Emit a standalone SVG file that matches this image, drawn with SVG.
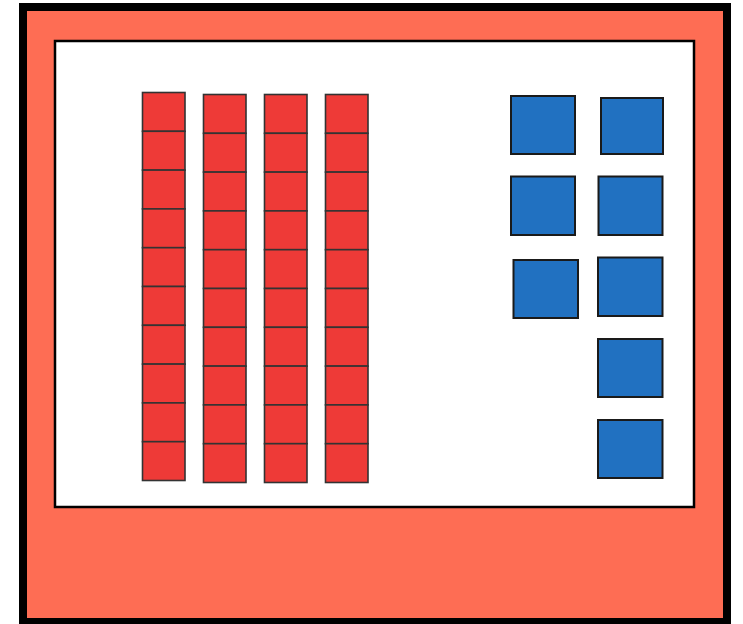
<svg xmlns="http://www.w3.org/2000/svg" width="743" height="624" viewBox="0 0 743 624">
<style>
.frame{fill:#FE6D54;stroke:#000;stroke-width:8}
.board{fill:#fff;stroke:#000;stroke-width:2.5}
.r{fill:#EE3A37;stroke:#333;stroke-width:1.6}
.b{fill:#2171C1;stroke:#1a1a1a;stroke-width:2}
</style>
<defs>
<g id="col">
<rect class="r" x="0" y="0" width="42.5" height="38.8"/>
<rect class="r" x="0" y="38.8" width="42.5" height="38.8"/>
<rect class="r" x="0" y="77.6" width="42.5" height="38.8"/>
<rect class="r" x="0" y="116.4" width="42.5" height="38.8"/>
<rect class="r" x="0" y="155.2" width="42.5" height="38.8"/>
<rect class="r" x="0" y="194" width="42.5" height="38.8"/>
<rect class="r" x="0" y="232.8" width="42.5" height="38.8"/>
<rect class="r" x="0" y="271.6" width="42.5" height="38.8"/>
<rect class="r" x="0" y="310.4" width="42.5" height="38.8"/>
<rect class="r" x="0" y="349.2" width="42.5" height="38.8"/>
</g>
</defs>
<g id="frame"><rect class="frame" x="23" y="7" width="704" height="615"/></g>
<g id="board"><rect class="board" x="55" y="41" width="639" height="466"/></g>
<g id="rod1"><use href="#col" x="142.5" y="92.5"/></g>
<g id="rod2"><use href="#col" x="203.5" y="94.5"/></g>
<g id="rod3"><use href="#col" x="264.5" y="94.5"/></g>
<g id="rod4"><use href="#col" x="325.5" y="94.5"/></g>
<g id="unit1"><rect class="b" x="511" y="96" width="64" height="58"/></g>
<g id="unit2"><rect class="b" x="601" y="98" width="62" height="56"/></g>
<g id="unit3"><rect class="b" x="511" y="176.5" width="64" height="58.5"/></g>
<g id="unit4"><rect class="b" x="598.5" y="176.5" width="64" height="58.5"/></g>
<g id="unit5"><rect class="b" x="513.5" y="260" width="64.5" height="58"/></g>
<g id="unit6"><rect class="b" x="598" y="257.5" width="64.5" height="58.5"/></g>
<g id="unit7"><rect class="b" x="598" y="339" width="64.5" height="58"/></g>
<g id="unit8"><rect class="b" x="598" y="420" width="64.5" height="58"/></g>
<g id="connectors"></g>
</svg>
